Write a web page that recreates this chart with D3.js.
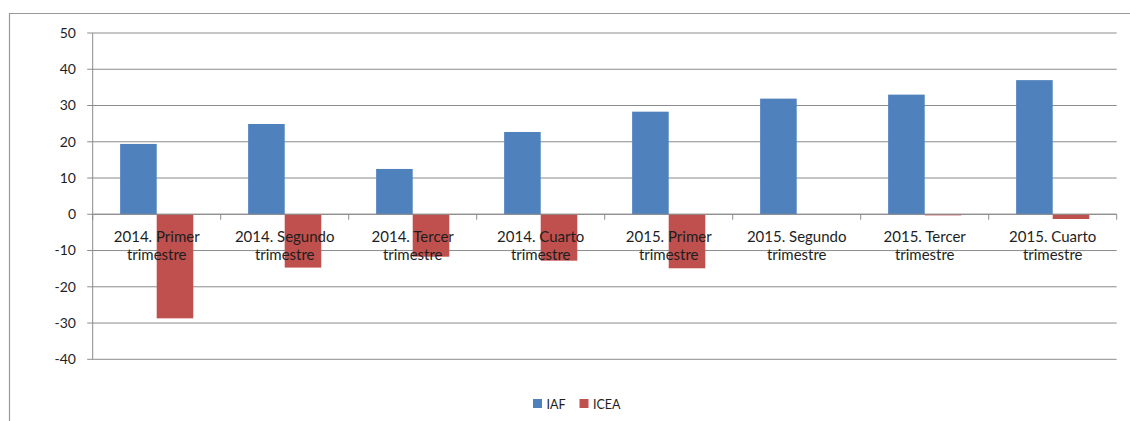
<!DOCTYPE html>
<html>
<head>
<meta charset="utf-8">
<script src="https://cdn.jsdelivr.net/npm/d3@7"></script>
<style>
  html, body { margin: 0; padding: 0; background: #fff; }
  svg { display: block; }
  text { font-family: Lato, "Open Sans", sans-serif; fill: #1e1e1e; }
</style>
</head>
<body>
<svg id="chart" width="1130" height="421"></svg>
<script>
const categories = [
  ["2014. Primer", "trimestre"],
  ["2014. Segundo", "trimestre"],
  ["2014. Tercer", "trimestre"],
  ["2014. Cuarto", "trimestre"],
  ["2015. Primer", "trimestre"],
  ["2015. Segundo", "trimestre"],
  ["2015. Tercer", "trimestre"],
  ["2015. Cuarto", "trimestre"]
];
const seriesNames = ["IAF", "ICEA"];
const iaf  = [19.4, 24.9, 12.5, 22.7, 28.3, 31.9, 33.0, 37.0];
const icea = [-28.7, -14.7, -11.7, -12.8, -14.9, 0, -0.3, -1.3];
const yTicks = [50, 40, 30, 20, 10, 0, -10, -20, -30, -40];
const colors = ["#4F81BD", "#C0504D"];

const svg = d3.select("#chart");
const pLeft = 92.7, pRight = 1116.7, pTop = 33, pBottom = 359.3;

// outer chart border (left and top visible)
svg.append("path")
  .attr("d", "M9.5,421 L9.5,13.5 L1130,13.5")
  .attr("fill", "none").attr("stroke", "#999").attr("stroke-width", 1.2);

const keys = categories.map((c, i) => i);
const x0 = d3.scaleBand().domain(keys).range([pLeft, pRight]).paddingInner(0).paddingOuter(0);
const bw = x0.bandwidth() / 3.5;
const x1 = d3.scaleBand().domain(seriesNames).range([x0.bandwidth() / 2 - bw, x0.bandwidth() / 2 + bw]);
const y = d3.scaleLinear().domain([-40, 50]).range([pBottom, pTop]);

// gridlines
svg.append("g").selectAll("line").data(yTicks).join("line")
  .attr("x1", pLeft - 5.5).attr("x2", pRight)
  .attr("y1", d => y(d)).attr("y2", d => y(d))
  .attr("stroke", "#8c8c8c").attr("stroke-width", 1);

// y axis line
svg.append("line").attr("x1", pLeft).attr("x2", pLeft).attr("y1", pTop).attr("y2", pBottom)
  .attr("stroke", "#8c8c8c").attr("stroke-width", 1);

// y labels
svg.append("g").selectAll("text").data(yTicks).join("text")
  .attr("x", 76).attr("y", d => y(d)).attr("dy", "0.35em")
  .attr("text-anchor", "end").style("font-size", "14px")
  .text(d => d);

// bars
const seriesData = [iaf, icea];
seriesNames.forEach((name, si) => {
  svg.append("g").selectAll("rect").data(seriesData[si]).join("rect")
    .attr("x", (d, i) => x0(i) + x1(name))
    .attr("width", x1.bandwidth())
    .attr("y", d => y(Math.max(0, d)))
    .attr("height", d => Math.abs(y(d) - y(0)))
    .attr("fill", colors[si]);
});

// zero axis line and category ticks
svg.append("line").attr("x1", pLeft).attr("x2", pRight).attr("y1", y(0)).attr("y2", y(0))
  .attr("stroke", "#8c8c8c").attr("stroke-width", 1);
svg.append("g").selectAll("line").data(keys.concat([keys.length])).join("line")
  .attr("x1", d => d < keys.length ? x0(d) : pRight)
  .attr("x2", d => d < keys.length ? x0(d) : pRight)
  .attr("y1", y(0)).attr("y2", y(0) + 5.5)
  .attr("stroke", "#8c8c8c").attr("stroke-width", 1);

// category labels
const lab = svg.append("g").selectAll("text").data(categories).join("text")
  .attr("text-anchor", "middle").style("font-size", "15px")
  .attr("x", (d, i) => x0(i) + x0.bandwidth() / 2);
lab.selectAll("tspan").data(d => d).join("tspan")
  .attr("x", function() { return d3.select(this.parentNode).attr("x"); })
  .attr("y", (d, j) => 242 + j * 18)
  .text(d => d);

// legend
const legend = svg.append("g");
const legendX = [533, 579.5];
seriesNames.forEach((name, si) => {
  legend.append("rect").attr("x", legendX[si]).attr("y", 399).attr("width", 9).attr("height", 9)
    .attr("fill", colors[si]);
  legend.append("text").attr("x", legendX[si] + 13.5).attr("y", 408.5)
    .style("font-size", "12.5px").text(name);
});
</script>
</body>
</html>
